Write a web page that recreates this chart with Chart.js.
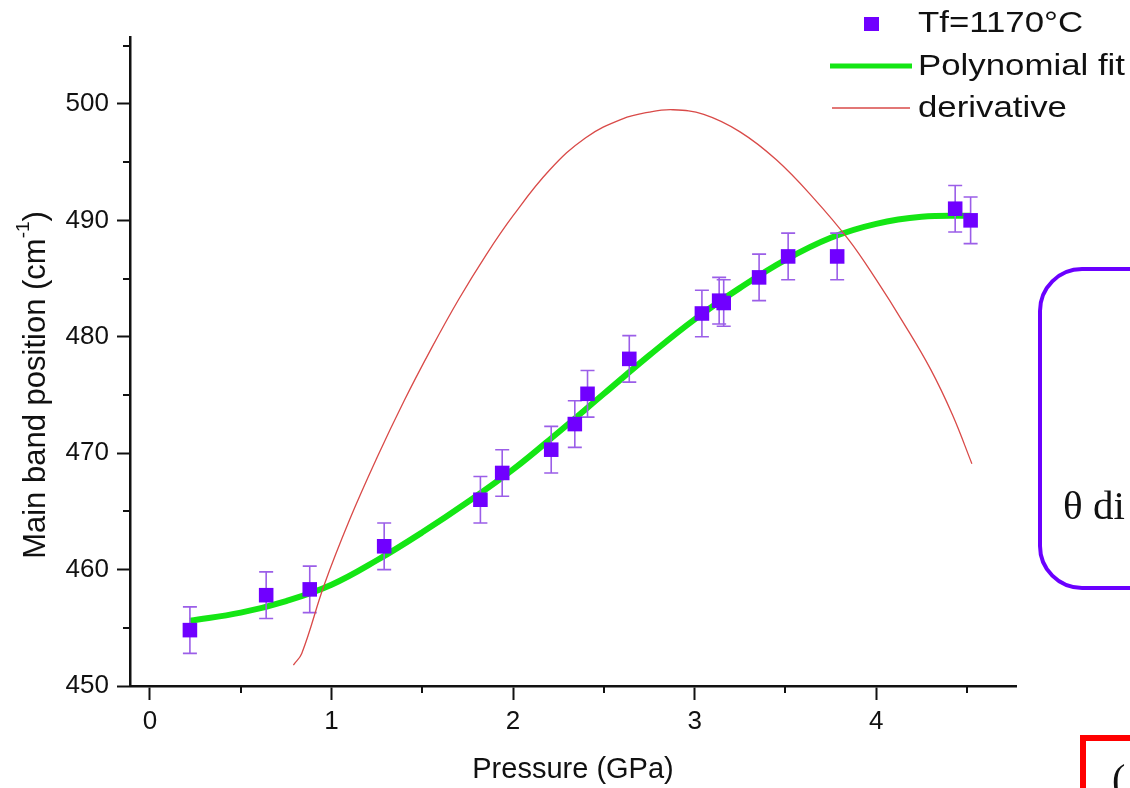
<!DOCTYPE html>
<html>
<head>
<meta charset="utf-8">
<script src="https://cdn.jsdelivr.net/npm/chart.js@4.4.1/dist/chart.umd.min.js"></script>
<style>
  html, body { margin: 0; padding: 0; background: #fff; overflow: hidden; width: 1130px; height: 788px; }
  #wrap { position: relative; width: 1130px; height: 788px; }
  #c { position: absolute; left: 0; top: 0; }
  .box { position: absolute; left: 1038px; top: 267px; width: 200px; height: 315px;
         border: 4px solid #6a00ff; border-radius: 44px; }
  .box span { position: absolute; left: 21px; top: 210px; font: 41px "Liberation Serif", serif; color: #111; }
  .red { position: absolute; left: 1080px; top: 735px; width: 200px; height: 100px;
         border-left: 6px solid #ff0000; border-top: 6px solid #ff0000; }
  .red span { position: absolute; left: 26px; top: 14px; font: 40px "Liberation Serif", serif; color: #111; }
</style>
</head>
<body>
<div id="wrap">
  <canvas id="c" width="1130" height="788"></canvas>
  <div class="box"><span>θ di</span></div>
  <div class="red"><span>(</span></div>
</div>
<script>
// measured points (Tf = 1170 °C)
const pressure = [0.22, 0.64, 0.88, 1.29, 1.82, 1.94, 2.21, 2.34, 2.41, 2.64, 3.04, 3.135, 3.16, 3.355, 3.515, 3.785, 4.435, 4.52];
const band     = [454.8, 457.8, 458.3, 462.0, 466.0, 468.3, 470.3, 472.5, 475.1, 478.1, 482.0, 483.1, 482.9, 485.1, 486.9, 486.9, 491.0, 490.0];
const bandErr  = [2, 2, 2, 2, 2, 2, 2, 2, 2, 2, 2, 2, 2, 2, 2, 2, 2, 2];

// polynomial fit
const fitX = [0.22, 0.5, 0.75, 1.0, 1.25, 1.5, 1.75, 2.0, 2.25, 2.5, 2.75, 3.0, 3.25, 3.5, 3.75, 4.0, 4.25, 4.52];
const fitY = [455.6, 456.3, 457.3, 458.7, 460.8, 463.2, 465.8, 468.6, 471.8, 475.1, 478.4, 481.5, 484.2, 486.6, 488.5, 489.7, 490.3, 490.4];

// derivative curve (same axis scale as in the figure)
const derivX = [0.79, 0.836, 0.96, 1.1, 1.25, 1.4, 1.55, 1.7, 1.85, 2.0, 2.2, 2.4, 2.6, 2.75, 2.88, 3.05, 3.25, 3.45, 3.65, 3.85, 4.0, 4.15, 4.3, 4.42, 4.527];
const derivY = [451.8, 452.8, 458.7, 464.3, 469.6, 474.5, 479.0, 483.2, 487.0, 490.4, 494.3, 497.1, 498.7, 499.3, 499.5, 499.1, 497.6, 495.2, 492.0, 488.3, 484.9, 481.2, 477.2, 473.3, 469.1];

const xTicks = [0, 1, 2, 3, 4];
const yTicks = [450, 460, 470, 480, 490, 500];
const xMinor = [0.5, 1.5, 2.5, 3.5, 4.5];
const yMinor = [455, 465, 475, 485, 495, 505];

const legendLabels = ['Tf=1170°C', 'Polynomial fit', 'derivative'];

const FONT = '"Liberation Sans", Arial, sans-serif';
const purple = '#7000ff';
const errColor = '#9b5ee8';
const green = '#14e614';
const red = '#d94a48';

function pts(xs, ys) {
    return xs.map((x, i) => ({ x: x, y: ys[i] }));
}

const extras = {
    id: 'extras',
    beforeDatasetDraw(chart, args) {
        if (args.index !== 0) return;
        const xs = chart.scales.x, ys = chart.scales.y, ctx = chart.ctx;
        ctx.save();
        ctx.strokeStyle = errColor;
        ctx.lineWidth = 1.6;
        pressure.forEach((p, i) => {
            const px = xs.getPixelForValue(p);
            const top = ys.getPixelForValue(band[i] + bandErr[i]);
            const bot = ys.getPixelForValue(band[i] - bandErr[i]);
            ctx.beginPath();
            ctx.moveTo(px, top); ctx.lineTo(px, bot);
            ctx.moveTo(px - 7, top); ctx.lineTo(px + 7, top);
            ctx.moveTo(px - 7, bot); ctx.lineTo(px + 7, bot);
            ctx.stroke();
        });
        ctx.restore();
    },
    afterDraw(chart) {
        const xs = chart.scales.x, ys = chart.scales.y, ctx = chart.ctx;
        const area = chart.chartArea;
        ctx.save();
        // minor ticks
        ctx.strokeStyle = '#111';
        ctx.lineWidth = 2;
        ctx.beginPath();
        xMinor.forEach(v => {
            const px = Math.round(xs.getPixelForValue(v));
            ctx.moveTo(px, area.bottom); ctx.lineTo(px, area.bottom + 7);
        });
        yMinor.forEach(v => {
            const py = Math.round(ys.getPixelForValue(v));
            ctx.moveTo(area.left - 7, py); ctx.lineTo(area.left, py);
        });
        ctx.stroke();

        // y axis title with superscript
        ctx.translate(36, 385);
        ctx.rotate(-Math.PI / 2);
        ctx.fillStyle = '#111';
        ctx.textBaseline = 'middle';
        const main = 'Main band position (cm';
        ctx.font = '31px ' + FONT;
        const w1 = ctx.measureText(main).width;
        const w3 = ctx.measureText(')').width;
        ctx.font = '19px ' + FONT;
        const w2 = ctx.measureText('-1').width;
        let x0 = -(w1 + w2 + w3) / 2;
        ctx.font = '31px ' + FONT;
        ctx.fillText(main, x0, 0);
        ctx.font = '19px ' + FONT;
        ctx.fillText('-1', x0 + w1, -12);
        ctx.font = '31px ' + FONT;
        ctx.fillText(')', x0 + w1 + w2, 0);
        ctx.restore();

        // legend
        ctx.save();
        const rows = [24, 67, 109];
        const ds = chart.data.datasets;
        ctx.fillStyle = ds[0].backgroundColor;
        ctx.fillRect(864, rows[0] - 7, 15, 14);
        ctx.strokeStyle = ds[1].borderColor;
        ctx.lineWidth = ds[1].borderWidth - 1;
        ctx.beginPath(); ctx.moveTo(830, rows[1] - 1); ctx.lineTo(912, rows[1] - 1); ctx.stroke();
        ctx.strokeStyle = ds[2].borderColor;
        ctx.lineWidth = ds[2].borderWidth;
        ctx.beginPath(); ctx.moveTo(832, rows[2] - 1); ctx.lineTo(910, rows[2] - 1); ctx.stroke();
        ctx.fillStyle = '#111';
        ctx.textBaseline = 'middle';
        ctx.font = '30px ' + FONT;
        legendLabels.forEach((t, i) => {
            ctx.save();
            ctx.translate(918, rows[i]);
            ctx.scale(1.16, 1);
            ctx.fillText(t, 0, 0);
            ctx.restore();
        });
        ctx.restore();
    }
};

new Chart(document.getElementById('c'), {
    type: 'scatter',
    data: {
        datasets: [{
            label: legendLabels[0],
            data: pts(pressure, band),
            pointStyle: 'rect',
            pointRadius: 10.3,
            pointHoverRadius: 10.3,
            backgroundColor: purple,
            borderWidth: 0,
            order: 1
        }, {
            label: legendLabels[1],
            type: 'line',
            data: pts(fitX, fitY),
            borderColor: green,
            borderWidth: 6,
            pointRadius: 0,
            tension: 0.4,
            fill: false,
            order: 2
        }, {
            label: legendLabels[2],
            type: 'line',
            data: pts(derivX, derivY),
            borderColor: red,
            borderWidth: 1.3,
            pointRadius: 0,
            tension: 0.4,
            fill: false,
            order: 0
        }]
    },
    options: {
        responsive: false,
        animation: false,
        devicePixelRatio: 1,
        layout: { padding: { top: 37, right: 114, left: 0, bottom: 0 } },
        plugins: {
            legend: { display: false },
            tooltip: { enabled: false }
        },
        scales: {
            x: {
                type: 'linear',
                min: -0.11,
                max: 4.77,
                afterBuildTicks: s => { s.ticks = xTicks.map(v => ({ value: v })); },
                afterFit: s => { s.height = 102; },
                border: { display: true, color: '#111', width: 2.5 },
                grid: { drawOnChartArea: false, drawTicks: true, tickLength: 14, tickColor: '#111', tickWidth: 2 },
                ticks: { color: '#111', font: { family: FONT, size: 26 }, padding: 6, maxRotation: 0 },
                title: { display: true, text: 'Pressure (GPa)', color: '#111', font: { family: FONT, size: 29 }, padding: { top: 0, bottom: 1 } }
            },
            y: {
                type: 'linear',
                min: 450,
                max: 505.75,
                afterBuildTicks: s => { s.ticks = yTicks.map(v => ({ value: v })); },
                afterFit: s => { s.width = 130; },
                border: { display: true, color: '#111', width: 2.5 },
                grid: { drawOnChartArea: false, drawTicks: true, tickLength: 13, tickColor: '#111', tickWidth: 2 },
                ticks: { color: '#111', font: { family: FONT, size: 26 }, padding: 8 }
            }
        }
    },
    plugins: [extras]
});
</script>
</body>
</html>
